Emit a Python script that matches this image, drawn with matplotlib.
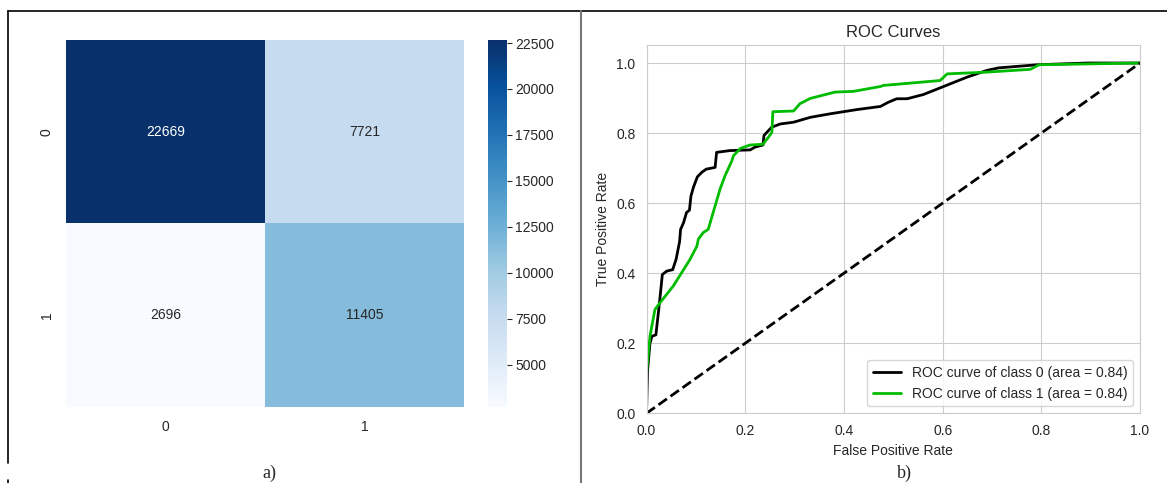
import numpy as np
import matplotlib
matplotlib.use("Agg")
import matplotlib.pyplot as plt
import seaborn as sns
from matplotlib.lines import Line2D

# confusion matrix
cm = np.array([[22669, 7721],
               [2696, 11405]])
cm_labels = ["0", "1"]
cbar_ticks = [5000, 7500, 10000, 12500, 15000, 17500, 20000, 22500]

# ROC curve points
fpr0 = [0.0, 0.002, 0.007, 0.011, 0.019, 0.024, 0.029, 0.032, 0.041, 0.053, 0.060, 0.067,
        0.069, 0.075, 0.081, 0.087, 0.090, 0.095, 0.103, 0.112, 0.121, 0.139, 0.142, 0.169,
        0.210, 0.220, 0.236, 0.238, 0.247, 0.254, 0.271, 0.298, 0.332, 0.372, 0.426, 0.474,
        0.490, 0.507, 0.528, 0.561, 0.602, 0.650, 0.690, 0.713, 0.792, 0.893, 1.0]
tpr0 = [0.0, 0.120, 0.200, 0.220, 0.224, 0.287, 0.353, 0.396, 0.406, 0.410, 0.440, 0.490,
        0.525, 0.544, 0.573, 0.580, 0.620, 0.645, 0.675, 0.688, 0.697, 0.702, 0.745, 0.750,
        0.752, 0.760, 0.766, 0.793, 0.807, 0.817, 0.826, 0.831, 0.845, 0.855, 0.867, 0.876,
        0.888, 0.898, 0.898, 0.910, 0.933, 0.960, 0.979, 0.986, 0.995, 1.0, 1.0]
fpr1 = [0.0, 0.0, 0.007, 0.017, 0.027, 0.054, 0.088, 0.102, 0.105, 0.115, 0.125, 0.135,
        0.139, 0.149, 0.159, 0.173, 0.176, 0.190, 0.210, 0.236, 0.247, 0.254, 0.256, 0.298,
        0.311, 0.332, 0.382, 0.419, 0.474, 0.480, 0.595, 0.609, 0.690, 0.778, 0.795, 1.0]
tpr1 = [0.0, 0.115, 0.220, 0.296, 0.315, 0.363, 0.439, 0.477, 0.497, 0.516, 0.525, 0.573,
        0.592, 0.640, 0.678, 0.721, 0.735, 0.756, 0.766, 0.768, 0.788, 0.802, 0.861, 0.863,
        0.884, 0.899, 0.917, 0.919, 0.933, 0.936, 0.950, 0.969, 0.974, 0.982, 0.995, 1.0]
auc = [0.84, 0.84]

sns.set_style("whitegrid")
plt.rcParams['font.family'] = ['Liberation Sans', 'DejaVu Sans']
txt_col = '#262626'

fig = plt.figure(figsize=(11.67, 4.83), dpi=100)

# ---- a) heatmap ----
ax1 = fig.add_axes([0.0566, 0.1573, 0.341, 0.760])
cax = fig.add_axes([0.4182, 0.1573, 0.0163, 0.760])
sns.heatmap(cm, annot=True, fmt='d', cmap='Blues', ax=ax1, cbar_ax=cax,
            xticklabels=cm_labels, yticklabels=cm_labels,
            annot_kws={'fontsize': 10})
ax1.grid(False)
ax1.tick_params(axis='both', length=0, pad=9, labelsize=10, colors=txt_col)
ax1.set_yticklabels(cm_labels, rotation=90, va='center')
cax.set_yticks(cbar_ticks)
cax.tick_params(axis='y', length=3.5, width=0.8, pad=2.5, labelsize=10,
                colors=txt_col, right=True)
cax.grid(False)

# ---- b) ROC ----
ax2 = fig.add_axes([0.554, 0.1443, 0.4229, 0.7615])
cmap = plt.get_cmap('nipy_spectral')
ax2.plot(fpr0, tpr0, lw=2, color=cmap(0.0),
         label='ROC curve of class 0 (area = {:0.2f})'.format(auc[0]))
ax2.plot(fpr1, tpr1, lw=2, color=cmap(0.5),
         label='ROC curve of class 1 (area = {:0.2f})'.format(auc[1]))
ax2.plot([0, 1], [0, 1], 'k--', lw=2)
ax2.set_xlim([0.0, 1.0])
ax2.set_ylim([0.0, 1.05])
ax2.set_title('ROC Curves', fontsize=12, color=txt_col)
ax2.set_xlabel('False Positive Rate', fontsize=10, color=txt_col)
ax2.set_ylabel('True Positive Rate', fontsize=10, color=txt_col)
ax2.tick_params(axis='both', length=0, pad=8, labelsize=10, colors=txt_col)
ax2.legend(loc='lower right', fontsize=10)

# panel labels and frame lines
fig.text(269 / 1167, 1 - 473 / 483, 'a)', family='Liberation Serif', fontsize=13,
         ha='center', va='center')
fig.text(904 / 1167, 1 - 473 / 483, 'b)', family='Liberation Serif', fontsize=13,
         ha='center', va='center')
fig.add_artist(Line2D([8 / 1167, 1.0], [1 - 11 / 483] * 2, color='black', lw=1.2))
fig.add_artist(Line2D([8 / 1167] * 2, [1 - 11 / 483, 1 - 463 / 483], color='black', lw=1.2))
fig.add_artist(Line2D([8 / 1167] * 2, [1 - 480 / 483, 0.0], color='black', lw=1.2))
fig.add_artist(Line2D([581 / 1167] * 2, [1 - 11 / 483, 0.0], color='#777777', lw=1.5))

plt.savefig('out.png', dpi=100)
